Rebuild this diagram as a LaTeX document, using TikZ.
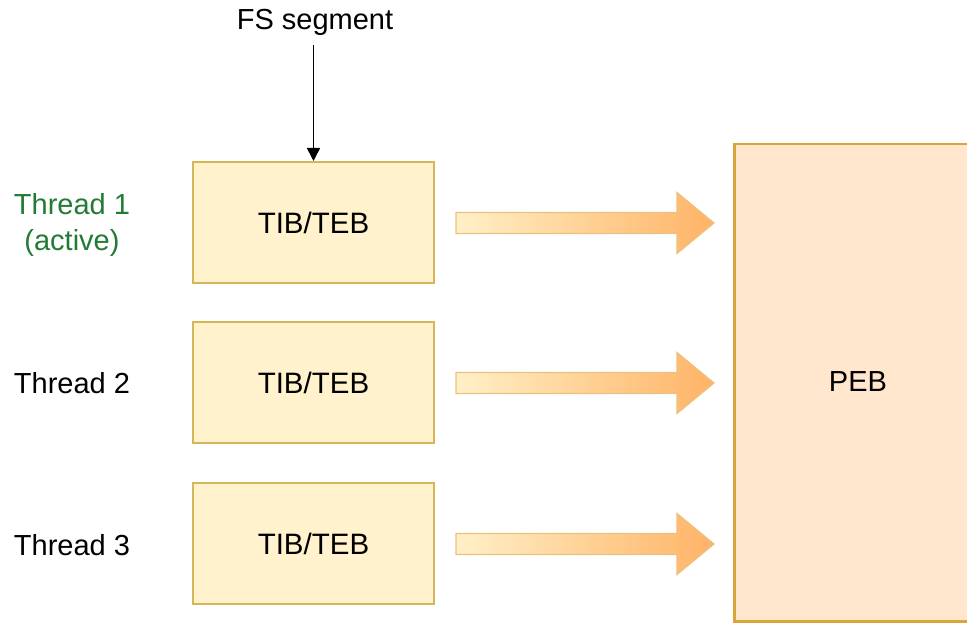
\documentclass[tikz,border=0pt]{standalone}
\usepackage{fontspec}
\setmainfont{Liberation Sans}
\usetikzlibrary{arrows.meta}
\definecolor{tibfill}{HTML}{FFF2CC}
\definecolor{tibline}{HTML}{D6B656}
\definecolor{pebfill}{HTML}{FFE6CC}
\definecolor{pebline}{HTML}{D7A53A}
\definecolor{arrowL}{HTML}{FFF0C8}
\definecolor{arrowR}{HTML}{FFB366}
\definecolor{arrowline}{HTML}{EBC17E}
\definecolor{activegreen}{HTML}{237A35}
\tikzset{
  tib/.style={draw=tibline, fill=tibfill, line width=2pt, minimum width=241pt,
    minimum height=121pt, font=\fontsize{29.5}{34}\selectfont, inner sep=0pt},
  peb/.style={draw=pebline, fill=pebfill, line width=2.5pt, minimum width=300pt,
    minimum height=477pt, inner sep=0pt},
  lbl/.style={font=\fontsize{29}{36}\selectfont, align=center, inner sep=0pt},
  fat/.style={draw=arrowline, line width=1.2pt, left color=arrowL, right color=arrowR, shading angle=90},
}
\begin{document}
\begin{tikzpicture}[x=1pt, y=-1pt]
  \useasboundingbox (0,0) rectangle (967,623);
  \clip (0,0) rectangle (967,623);
  % process environment block, partly past the right edge
  \node[peb, anchor=north west] (peb) at (733,143) {};
  \node[lbl] (pebtext) at (858,382) {PEB};
  % thread blocks
  \node[tib] (t1) at (313.5,222.5) {TIB/TEB};
  \node[tib] (t2) at (313.5,382.5) {TIB/TEB};
  \node[tib] (t3) at (313.5,543.5) {TIB/TEB};
  % labels
  \node[lbl, text=activegreen] (l1) at (72,225) {Thread 1\\(active)};
  \node[lbl] (l2) at (72,383) {Thread 2};
  \node[lbl] (l3) at (72,545) {Thread 3};
  \node[lbl] (fs) at (315,22) {FS segment};
  \coordinate (fsfoot) at ([yshift=-10pt]fs.south -| t1.north);
  \draw[-{Triangle[length=13pt,width=13pt]}, line width=1.6pt] (fsfoot) -- (t1.north);
  % block arrows towards the PEB
  \foreach \n in {t1,t2,t3}{
    \path (\n.east) ++(21,0) coordinate (\n a);
    \shade[fat] (\n a) ++(0,-10) -- ++(221,0) -- ++(0,-20) -- ++(37,30.5)
      -- ++(-37,30.5) -- ++(0,-20) -- ++(-221,0) -- cycle;
  }
\end{tikzpicture}
\end{document}
